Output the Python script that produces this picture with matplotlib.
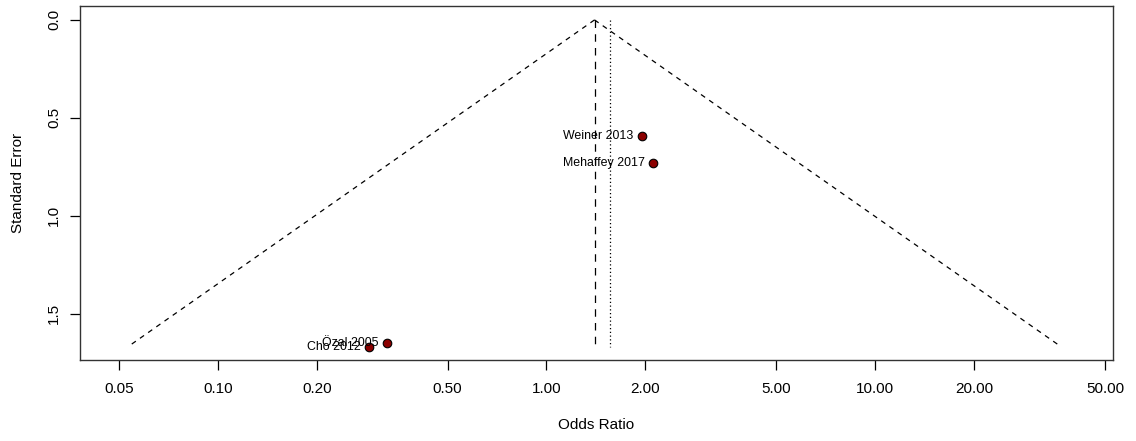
import numpy as np
import matplotlib
matplotlib.use("Agg")
import matplotlib.pyplot as plt
from matplotlib.ticker import FixedLocator, FixedFormatter, NullLocator

plt.rcParams['font.family'] = ['Liberation Sans', 'DejaVu Sans']

# study estimates (odds ratios) and their standard errors
studies = ["Weiner 2013", "Mehaffey 2017", "Özal 2005", "Cho 2012"]
odds_ratios = [1.95, 2.11, 0.327, 0.288]
std_errors = [0.590, 0.731, 1.650, 1.667]

pooled_or = 1.40      # summary estimate (funnel apex, dashed line)
second_or = 1.56      # second reference estimate (dotted line)

xticks = [0.05, 0.10, 0.20, 0.50, 1.00, 2.00, 5.00, 10.00, 20.00, 50.00]
xtick_labels = ["%.2f" % t for t in xticks]
yticks = [0.0, 0.5, 1.0, 1.5]

fig = plt.figure(figsize=(11.36, 4.41), dpi=100)
ax = fig.add_axes([0.0704, 0.1837, 0.9094, 0.8027])

se_max = max(std_errors)
se_line = np.array([0.0, se_max])

# pseudo confidence funnel
ax.plot(pooled_or * np.exp(-1.96 * se_line), se_line, color="black",
        lw=0.9, ls=(0, (4, 4)))
ax.plot(pooled_or * np.exp(1.96 * se_line), se_line, color="black",
        lw=0.9, ls=(0, (4, 4)))
ax.plot([pooled_or, pooled_or], [0, se_max], color="black", lw=0.9,
        ls=(0, (6, 5)))
ax.plot([second_or, second_or], [0, se_max], color="black", lw=0.9,
        ls=(0, (1, 2)))

ax.scatter(odds_ratios, std_errors, s=38, color="#8b0000",
           edgecolors="black", linewidths=0.8, zorder=3)
for name, x, y in zip(studies, odds_ratios, std_errors):
    ax.annotate(name, (x, y), xytext=(-6, 0), textcoords="offset points",
                ha="right", va="center", fontsize=8.9)

ax.set_xscale("log")
ax.set_xlim(0.0381, 52.9)
ax.set_ylim(1.735, -0.071)
ax.xaxis.set_major_locator(FixedLocator(xticks))
ax.xaxis.set_major_formatter(FixedFormatter(xtick_labels))
ax.xaxis.set_minor_locator(NullLocator())
ax.set_yticks(yticks)
ax.set_yticklabels(["0.0", "0.5", "1.0", "1.5"], rotation=90, va="center")

ax.tick_params(axis="both", direction="out", length=7, width=0.9,
               labelsize=11, colors="black")
ax.tick_params(axis="x", pad=9)
ax.tick_params(axis="y", pad=6.5)
for s in ax.spines.values():
    s.set_linewidth(1.0)
    s.set_color("#333333")

ax.set_xlabel("Odds Ratio", fontsize=11, labelpad=16)
ax.set_ylabel("Standard Error", fontsize=11, labelpad=16)

fig.savefig("out.png", dpi=100)
